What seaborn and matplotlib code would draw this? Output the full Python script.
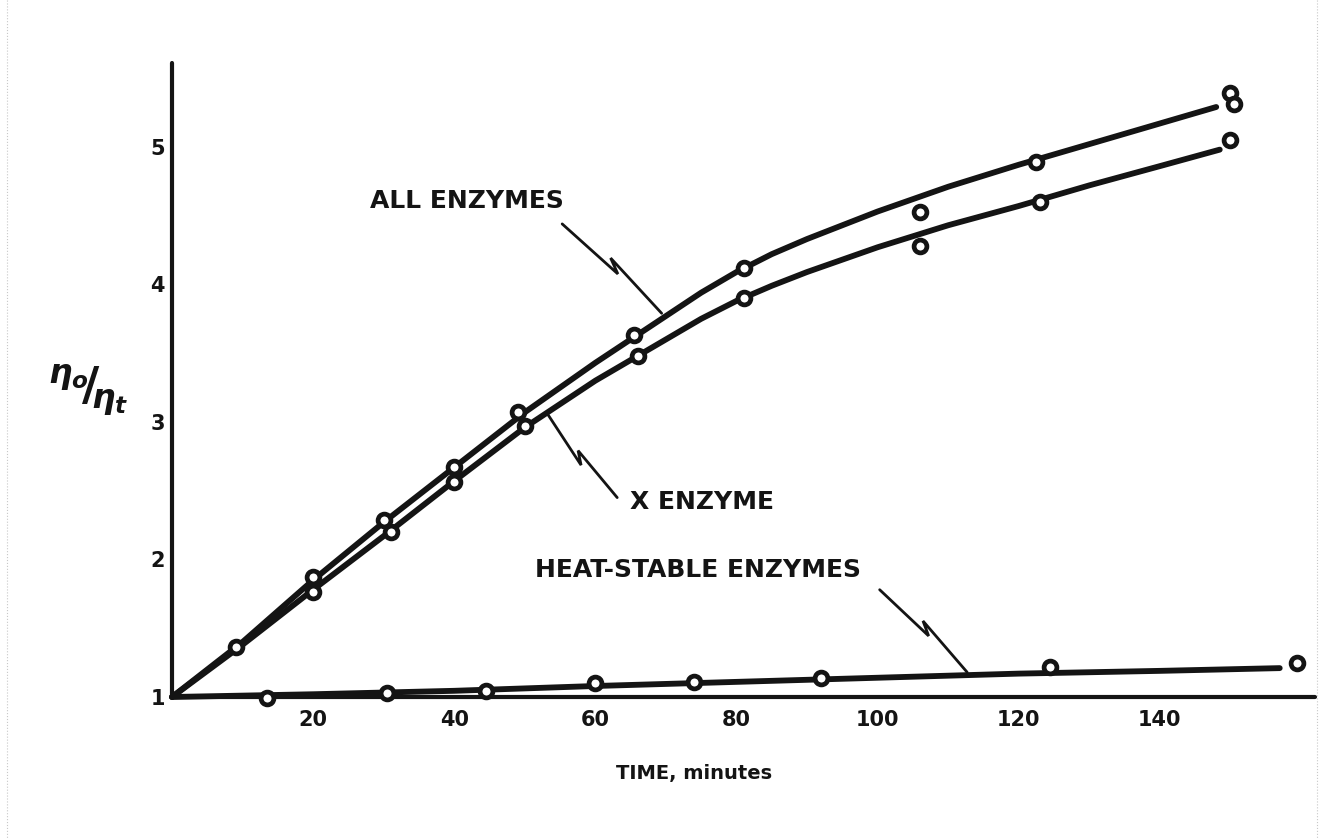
import numpy as np
import pandas as pd
import matplotlib
matplotlib.use("Agg")
import matplotlib.pyplot as plt
from matplotlib.lines import Line2D
import seaborn as sns

# ---- measured points -------------------------------------------------------
all_time = [9, 20, 30, 40, 49, 65.5, 81, 106, 122.5, 150, 150.5]
all_ratio = [1.36, 1.87, 2.29, 2.67, 3.07, 3.63, 4.12, 4.53, 4.89, 5.39, 5.31]

x_time = [20, 31, 40, 50, 66, 81, 106, 123, 150]
x_ratio = [1.76, 2.20, 2.56, 2.97, 3.48, 3.90, 4.28, 4.60, 5.05]

heat_time = [13.5, 30.5, 44.5, 60, 74, 92, 124.5, 159.5]
heat_ratio = [0.99, 1.03, 1.04, 1.10, 1.11, 1.14, 1.22, 1.25]

# ---- hand-fitted curves ----------------------------------------------------
all_curve_t = [0, 10, 20, 30, 40, 50, 60, 70, 75, 80, 85, 90, 100, 110, 120,
               130, 140, 148]
all_curve_v = [1.0, 1.40, 1.85, 2.27, 2.67, 3.07, 3.43, 3.77, 3.94, 4.09, 4.22,
               4.33, 4.53, 4.71, 4.87, 5.02, 5.17, 5.29]

x_curve_t = [0, 10, 20, 30, 40, 50, 60, 70, 75, 80, 85, 90, 100, 110, 120,
             130, 140, 148.5]
x_curve_v = [1.0, 1.38, 1.78, 2.17, 2.57, 2.96, 3.30, 3.60, 3.75, 3.88, 3.99,
             4.09, 4.27, 4.43, 4.57, 4.72, 4.86, 4.98]

heat_curve_t = [0, 20, 40, 60, 80, 100, 120, 140, 157]
heat_curve_v = [1.0, 1.02, 1.045, 1.08, 1.11, 1.14, 1.17, 1.19, 1.21]

# ---- axis labelling --------------------------------------------------------
x_ticks = [20, 40, 60, 80, 100, 120, 140, 160]
x_tick_labels = ["20", "40", "60", "80", "100", "120", "140", ""]
y_ticks = [1, 2, 3, 4, 5]
y_tick_labels = ["1", "2", "3", "4", "5"]

series_names = ["ALL ENZYMES", "X ENZYME", "HEAT-STABLE ENZYMES"]

sns.set_style("white")
plt.rcParams["font.family"] = ["DejaVu Sans"]
plt.rcParams["font.weight"] = "bold"

INK = "#141414"

points = pd.concat([
    pd.DataFrame({"time": all_time, "ratio": all_ratio, "series": series_names[0]}),
    pd.DataFrame({"time": x_time, "ratio": x_ratio, "series": series_names[1]}),
    pd.DataFrame({"time": heat_time, "ratio": heat_ratio, "series": series_names[2]}),
])
curves = pd.concat([
    pd.DataFrame({"time": all_curve_t, "ratio": all_curve_v, "series": series_names[0]}),
    pd.DataFrame({"time": x_curve_t, "ratio": x_curve_v, "series": series_names[1]}),
    pd.DataFrame({"time": heat_curve_t, "ratio": heat_curve_v, "series": series_names[2]}),
])

W, H = 1333, 838
fig = plt.figure(figsize=(W / 100, H / 100), dpi=100)
fig.patch.set_facecolor("white")
ax = fig.add_axes([172 / W, 1 - 697 / H, (1315 - 172) / W, (697 - 63) / H])
ax.set_xlim(0, 162)
ax.set_ylim(1, 5.61)

ink_palette = {name: INK for name in series_names}
sns.lineplot(data=curves, x="time", y="ratio", hue="series", palette=ink_palette,
             units="series", estimator=None, sort=False, linewidth=4.2,
             legend=False, ax=ax, clip_on=False, zorder=3)
sns.scatterplot(data=points, x="time", y="ratio", hue="series", palette=ink_palette,
                marker="o", s=85, facecolor="white", edgecolor=INK, linewidth=3.4,
                legend=False, ax=ax, clip_on=False, zorder=4)
for coll in ax.collections:
    coll.set_facecolor("white")
    coll.set_edgecolor(INK)
    coll.set_clip_on(False)

# axes styling
for side in ("top", "right"):
    ax.spines[side].set_visible(False)
for side in ("left", "bottom"):
    ax.spines[side].set_linewidth(3.0)
    ax.spines[side].set_color(INK)
    ax.spines[side].set_capstyle("round")

ax.set_xticks(x_ticks)
ax.set_xticklabels(x_tick_labels)
ax.set_yticks(y_ticks)
ax.set_yticklabels(y_tick_labels)
ax.tick_params(axis="x", direction="in", length=7, width=2.4, color=INK,
               labelsize=15, pad=9)
ax.tick_params(axis="y", direction="in", length=9, width=2.4, color=INK,
               labelsize=15, pad=5)
for lab in ax.get_xticklabels() + ax.get_yticklabels():
    lab.set_fontweight("bold")
    lab.set_color(INK)
ax.set_xlabel("")
ax.set_ylabel("")


def zigzag_leader(ax, start, end, width=7.0, lw=2.0):
    """Draw a pointer line with a small lightning-style break in its middle."""
    to_px = ax.transData
    p0 = np.asarray(to_px.transform(start))
    p1 = np.asarray(to_px.transform(end))
    v = p1 - p0
    n = np.array([-v[1], v[0]]) / np.hypot(*v)
    path_px = np.array([
        p0,
        p0 + 0.56 * v,
        p0 + 0.44 * v + n * width,
        p1,
    ])
    path = to_px.inverted().transform(path_px)
    ax.plot(path[:, 0], path[:, 1], color=INK, lw=lw, solid_capstyle="round",
            solid_joinstyle="miter", clip_on=False, zorder=2)


label_kw = dict(fontsize=18, fontweight="bold", color=INK, va="center", ha="left")
ax.text(28.0, 4.61, series_names[0], **label_kw)
ax.text(64.9, 2.42, series_names[1], **label_kw)
ax.text(51.5, 1.92, series_names[2], **label_kw)

zigzag_leader(ax, (55.3, 4.44), (69.4, 3.79))
zigzag_leader(ax, (63.1, 2.45), (53.2, 3.06))
zigzag_leader(ax, (100.3, 1.78), (112.7, 1.18))

fig.text(694 / W, 1 - 773 / H, "TIME, minutes", fontsize=14, fontweight="bold",
         color=INK, ha="center", va="center")
fig.text(88 / W, 1 - 390 / H, r"${}^{\eta_o}\!/\!{}_{\eta_t}$", fontsize=34,
         color=INK, ha="center", va="center")

# faint scanned-page border
for xs, ys in (([7, 7], [0, H]), ([1317, 1317], [0, H])):
    fig.add_artist(Line2D([x / W for x in xs], [1 - y / H for y in ys],
                          transform=fig.transFigure, color="#c8c8c8",
                          lw=0.8, ls=":"))

fig.savefig("out.png", dpi=100, facecolor="white")
